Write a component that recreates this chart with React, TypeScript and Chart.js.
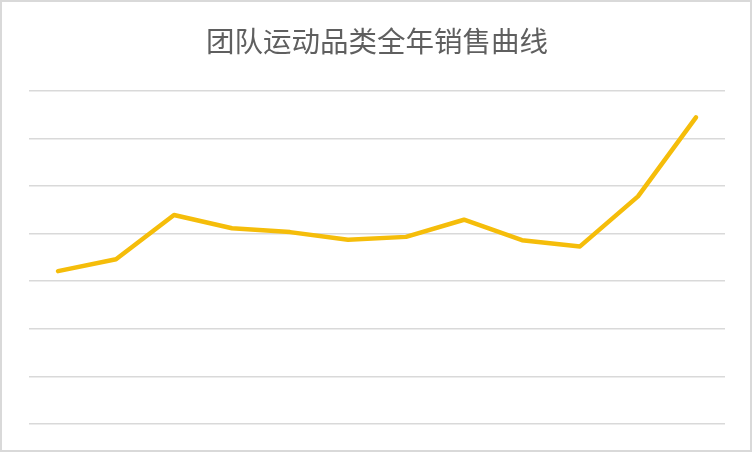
import { useEffect, useRef } from 'react'
import Chart from 'chart.js/auto'

const months = ['1月', '2月', '3月', '4月', '5月', '6月', '7月', '8月', '9月', '10月', '11月', '12月']
const sales = [32.1, 34.6, 43.9, 41.1, 40.3, 38.7, 39.3, 42.9, 38.6, 37.3, 47.8, 64.4]
const yMax = 70
const yStep = 10

export default function App() {
  const chartRef = useRef<HTMLCanvasElement>(null)
  const chartInstance = useRef<Chart | null>(null)

  useEffect(() => {
    document.body.style.margin = '0'
    if (!chartRef.current) return
    const ctx = chartRef.current.getContext('2d')
    if (!ctx) return
    if (chartInstance.current) chartInstance.current.destroy()

    chartInstance.current = new Chart(ctx, {
      type: 'line',
      data: {
        labels: months,
        datasets: [
          {
            label: '销售额',
            data: sales,
            borderColor: '#F5BD0A',
            borderWidth: 4.5,
            borderCapStyle: 'round',
            borderJoinStyle: 'round',
            pointRadius: 0,
            tension: 0,
            fill: false,
          },
        ],
      },
      options: {
        responsive: false,
        animation: false,
        layout: { padding: { left: 27, right: 25, top: 0, bottom: 26 } },
        plugins: {
          legend: { display: false },
          tooltip: { enabled: false },
          title: {
            display: true,
            text: '团队运动品类全年销售曲线',
            color: '#5f5f5f',
            font: { family: '"Noto Sans CJK SC", "Noto Sans", sans-serif', size: 28.5, weight: 'normal', lineHeight: 1.2 },
            padding: { top: 22, bottom: 32.5 },
          },
        },
        scales: {
          x: {
            display: false,
            offset: true,
          },
          y: {
            min: 0,
            max: yMax,
            ticks: { display: false, stepSize: yStep },
            grid: { color: '#d9d9d9', lineWidth: 1.5, drawTicks: false },
            border: { display: false },
          },
        },
      },
    })

    return () => {
      if (chartInstance.current) {
        chartInstance.current.destroy()
        chartInstance.current = null
      }
    }
  }, [])

  return (
    <div
      style={{
        width: 752,
        height: 452,
        boxSizing: 'border-box',
        border: '2px solid #d9d9d9',
        background: '#ffffff',
      }}
    >
      <canvas ref={chartRef} width={748} height={448} style={{ display: 'block' }}></canvas>
    </div>
  )
}
